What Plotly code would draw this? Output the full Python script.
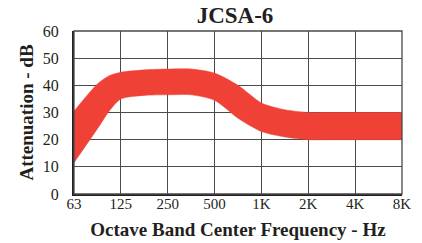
import plotly.graph_objects as go

# Category labels for octave bands
freq_labels = ["63", "125", "250", "500", "1K", "2K", "4K", "8K"]
freq_pos = [0, 1, 2, 3, 4, 5, 6, 7]

# Band positions (octave index, incl. intermediate readings) and attenuation limits (dB)
band_pos = [0, 0.5, 0.75, 1, 1.5, 2, 2.5, 3, 3.5, 4, 4.5, 5, 5.5, 6, 6.5, 7]
upper_db = [30.5, 40.5, 43.5, 44.8, 45.7, 46, 46, 44.5, 40, 33.5, 31, 30, 30, 30, 30, 30]
lower_db = [11.5, 24, 30.5, 35, 36.3, 36.5, 36.5, 34.5, 27.9, 23, 21, 20, 20, 20, 20, 20]

y_ticks = [0, 10, 20, 30, 40, 50, 60]

RED = "#EF4136"
INK = "#231F20"
SERIF = "Liberation Serif, Times New Roman, serif"

fig = go.Figure()
fig.add_trace(go.Scatter(
    x=band_pos, y=lower_db, mode="lines",
    line=dict(color=RED, width=0.5, shape="spline", smoothing=0.7),
    hoverinfo="skip", showlegend=False))
fig.add_trace(go.Scatter(
    x=band_pos, y=upper_db, mode="lines", fill="tonexty", fillcolor=RED,
    line=dict(color=RED, width=0.5, shape="spline", smoothing=0.7),
    hoverinfo="skip", showlegend=False))

fig.update_layout(
    width=422, height=243,
    margin=dict(l=74, r=20, t=31, b=49),
    paper_bgcolor="white", plot_bgcolor="white",
    title=dict(text="<b>JCSA-6</b>", x=235 / 422, xanchor="center",
               y=1 - 15 / 243, yanchor="middle",
               font=dict(family=SERIF, size=23, color=INK)),
    font=dict(family=SERIF, color=INK),
)
fig.update_xaxes(
    range=[0, 7], tickvals=freq_pos, ticktext=freq_labels,
    showgrid=True, gridcolor="#4a4a4a", gridwidth=1.3,
    showline=True, linecolor=INK, linewidth=2, mirror=False,
    ticks="", ticklabelstandoff=-5,
    tickfont=dict(family=SERIF, size=15, color=INK),
    title=dict(text="<b>Octave Band Center Frequency - Hz</b>",
               font=dict(family=SERIF, size=19, color=INK), standoff=12),
    zeroline=False, automargin=False,
)
fig.update_yaxes(
    range=[0, 60], tickvals=y_ticks,
    showgrid=True, gridcolor="#4a4a4a", gridwidth=1.3,
    showline=True, linecolor=INK, linewidth=2,
    ticks="outside", ticklen=10, tickcolor="rgba(0,0,0,0)",
    tickfont=dict(family=SERIF, size=16, color=INK),
    title=dict(text="<b>Attenuation - dB</b>",
               font=dict(family=SERIF, size=19, color=INK), standoff=4),
    zeroline=False,
)
# thin border on top and right
fig.add_shape(type="rect", xref="paper", yref="paper", x0=0, y0=0, x1=1, y1=1,
              line=dict(color="#4a4a4a", width=1.3), layer="above")

fig.write_html("out.html", config={"displayModeBar": False},
               post_script="document.body.style.margin='0';")
